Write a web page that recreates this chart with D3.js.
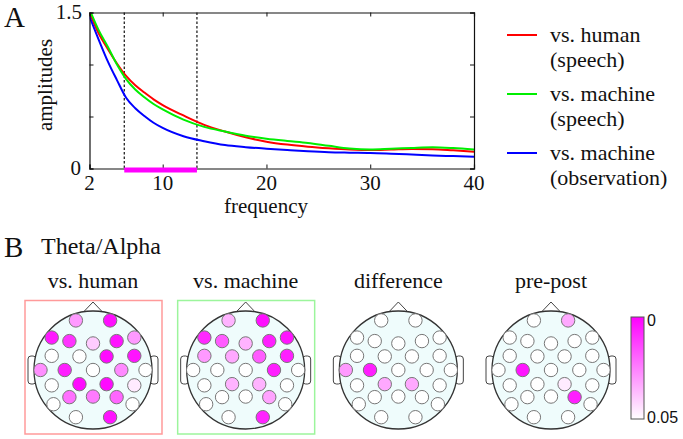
<!DOCTYPE html>
<html><head><meta charset="utf-8">
<script src="https://cdn.jsdelivr.net/npm/d3@7"></script>
<style>body{margin:0;background:#fff}svg{display:block}text{font-family:"Liberation Serif","Times New Roman",serif;fill:#111}</style>
</head><body><svg id="c" width="683" height="439"></svg>
<script>
// ---- Panel A data ----
const freqs = [2,3,4,5,6,7,8,9,10,12,14,16,18,20,22,24,26,28,30,32,34,36,38,40];
const humanSpeech   = [1.50,1.30,1.15,1.01,0.89,0.80,0.73,0.665,0.61,0.51,0.42,0.355,0.30,0.258,0.23,0.21,0.195,0.183,0.177,0.182,0.188,0.186,0.175,0.162];
const machineSpeech = [1.53,1.33,1.17,1.00,0.86,0.76,0.685,0.62,0.568,0.47,0.40,0.355,0.315,0.287,0.265,0.245,0.218,0.192,0.183,0.19,0.198,0.204,0.196,0.182];
const machineObs    = [1.46,1.24,1.03,0.85,0.68,0.58,0.505,0.44,0.39,0.31,0.262,0.225,0.205,0.19,0.177,0.165,0.156,0.152,0.149,0.142,0.134,0.126,0.119,0.112];
const seriesNames = ["vs. human|(speech)","vs. machine|(speech)","vs. machine|(observation)"];
const seriesColors = ["#ff0000","#00ee00","#0000ff"];
const band = [5.8, 13.3];
const xTickLabels = [2,10,20,30,40];
const yTickValues = [0,0.5,1,1.5];
const yTickLabels = ["0","","","1.5"];

// ---- Panel B data ----
const electrodes = ["Fp1","Fp2","F7","F3","Fz","F4","F8","FC5","FC1","FC2","FC6","T7","C3","Cz","C4","T8","CP5","CP1","CP2","CP6","P7","P3","Pz","P4","P8","O1","O2"];
// montage coordinates (unit head radius)
const montX = [-0.29,0.29,-0.70,-0.40,0,0.40,0.70,-0.70,-0.23,0.23,0.70,-0.89,-0.48,0,0.48,0.89,-0.70,-0.23,0.23,0.70,-0.67,-0.40,0,0.40,0.67,-0.29,0.29];
const montY = [-0.84,-0.84,-0.55,-0.49,-0.45,-0.49,-0.55,-0.24,-0.23,-0.23,-0.24,0,0,0,0,0,0.26,0.24,0.24,0.26,0.58,0.46,0.45,0.46,0.58,0.80,0.80];
const headTitles = ["vs. human","vs. machine","difference","pre-post"];
const pHuman   = [0.03,0.003,0.005,0.01,0.04,0.004,0.03,1,1,0.002,0.004,0.028,0.006,1,0.027,1,1,0.002,0.002,0.046,1,0.022,0.024,0.02,1,1,0.004];
const pMachine = [0.035,0.003,0.008,0.018,0.035,0.006,0.004,0.03,0.033,0.018,0.006,1,1,1,0.006,1,1,0.035,0.035,1,1,1,1,0.032,1,1,0.007];
const pDiff    = [1,1,1,1,1,1,1,1,1,1,1,0.03,0.006,1,1,1,1,0.033,0.033,1,1,1,1,1,1,1,1];
const pPrePost = [1,0.033,1,1,1,1,1,1,1,1,1,1,0.004,1,1,1,1,1,0.046,1,1,1,1,0.006,1,1,1];
const pMaps = [pHuman,pMachine,pDiff,pPrePost];
const boxColors = ["#ff9a9a","#9cf59c",null,null];
const cbarLabels = ["0","0.05"];

const svg = d3.select("#c");

// ===== Panel A =====
const x = d3.scaleLinear().domain([2,10,40]).range([89.5,162.7,474]);
const y = d3.scaleLinear().domain([0,1.5]).range([168.5,12.5]);
const gA = svg.append("g");
gA.append("defs").append("clipPath").attr("id","clipA").append("rect")
  .attr("x",x(2)).attr("y",y(1.5)).attr("width",x(40)-x(2)).attr("height",y(0)-y(1.5));

gA.selectAll("line.band").data(band).join("line")
  .attr("x1",d=>x(d)).attr("x2",d=>x(d)).attr("y1",y(1.5)).attr("y2",y(0))
  .attr("stroke","#111").attr("stroke-width",1.2).attr("stroke-dasharray","2.5,2");

const line = d3.line().x((d,i)=>x(freqs[i])).y(d=>y(d)).curve(d3.curveMonotoneX);
const allSeries = [humanSpeech, machineSpeech, machineObs];
gA.append("g").attr("clip-path","url(#clipA)").selectAll("path").data(allSeries).join("path")
  .attr("d",line).attr("fill","none").attr("stroke",(d,i)=>seriesColors[i]).attr("stroke-width",2);

const axB = d3.axisBottom(x).tickValues(xTickLabels).tickSize(-4).tickFormat("");
const axT = d3.axisTop(x).tickValues(xTickLabels).tickSize(-4).tickFormat("");
const axL = d3.axisLeft(y).tickValues(yTickValues).tickSize(-4).tickFormat("");
const axR = d3.axisRight(y).tickValues(yTickValues).tickSize(-4).tickFormat("");
[[axB,`translate(0,${y(0)})`],[axT,`translate(0,${y(1.5)})`],[axL,`translate(${x(2)},0)`],[axR,`translate(${x(40)},0)`]].forEach(([a,t])=>{
  const g = gA.append("g").attr("transform",t).call(a);
  g.select(".domain").attr("stroke","#111").attr("stroke-width",1.2);
  g.selectAll(".tick line").attr("stroke","#111");
});
gA.append("rect").attr("x",x(band[0])).attr("y",y(0)-1).attr("width",x(band[1])-x(band[0])).attr("height",5).attr("fill","#ff00ff");

gA.selectAll("text.xt").data(xTickLabels).join("text")
  .attr("x",d=>x(d)).attr("y",190).attr("text-anchor","middle").attr("font-size",21).text(d=>d);
gA.selectAll("text.yt").data(yTickValues.filter((d,i)=>yTickLabels[i])).join("text")
  .attr("x",d=>d===0?81:82).attr("y",d=>d===0?175:18.5).attr("text-anchor","end").attr("font-size",21)
  .text(d=>yTickLabels[yTickValues.indexOf(d)]);
gA.append("text").attr("x",266).attr("y",213).attr("text-anchor","middle").attr("font-size",21).text("frequency");
gA.append("text").attr("transform","translate(52,85) rotate(-90)").attr("text-anchor","middle").attr("font-size",21).text("amplitudes");
svg.append("text").attr("x",4).attr("y",27).attr("font-size",29).text("A");

const legY = [35,94,153];
seriesNames.forEach((n,i)=>{
  const parts = n.split("|");
  svg.append("line").attr("x1",507).attr("x2",537).attr("y1",legY[i]).attr("y2",legY[i])
    .attr("stroke",seriesColors[i]).attr("stroke-width",2);
  svg.append("text").attr("x",550).attr("y",legY[i]+7).attr("font-size",22).text(parts[0]);
  svg.append("text").attr("x",550).attr("y",legY[i]+32).attr("font-size",22).text(parts[1]);
});

// ===== Panel B =====
svg.append("text").attr("x",4).attr("y",257).attr("font-size",29).text("B");
svg.append("text").attr("x",41).attr("y",254).attr("font-size",24).text("Theta/Alpha");

const headCX = d3.scalePoint().domain(d3.range(4)).range([93,551]);
const headCY = 370, R = 59;
const color = d3.scaleLinear().domain([0,0.05]).range(["#ff00ff","#ffffff"]).clamp(true);

pMaps.forEach((pv,h)=>{
  const cx = headCX(h);
  const g = svg.append("g").attr("transform",`translate(${cx},${headCY})`);
  const ex = d3.scaleLinear().domain([-1,1]).range([-R,R]);
  const ey = d3.scaleLinear().domain([-1,1]).range([-R,R]);
  if (boxColors[h]) {
    g.append("rect").attr("x",-68).attr("y",-69.5).attr("width",137).attr("height",133.5)
      .attr("fill","none").attr("stroke",boxColors[h]).attr("stroke-width",1.5);
  }
  svg.append("text").attr("x",cx).attr("y",288).attr("text-anchor","middle").attr("font-size",22).text(headTitles[h]);
  [-1,1].forEach(s=>{
    g.append("rect").attr("x",s<0?-R-6:R-2).attr("y",-14).attr("width",8).attr("height",28).attr("rx",3)
      .attr("fill","#fff").attr("stroke","#444").attr("stroke-width",1);
  });
  g.append("path").attr("d",`M${-10},${-R+1.5} L0,${-R-9} L10,${-R+1.5}`).attr("fill","#fff").attr("stroke","#444").attr("stroke-width",1);
  g.append("circle").attr("r",R).attr("fill","#effcfc").attr("stroke","#333").attr("stroke-width",1.3);
  g.selectAll("circle.el").data(electrodes).join("circle")
    .attr("cx",(d,i)=>ex(montX[i])).attr("cy",(d,i)=>ey(montY[i])).attr("r",6.7)
    .attr("fill",(d,i)=>pv[i]>0.05?"#ffffff":color(pv[i])).attr("stroke","#777").attr("stroke-width",1);
});

const cb = d3.scaleLinear().domain([0,0.05]).range([317,419]);
const defs = svg.append("defs");
const grad = defs.append("linearGradient").attr("id","cbg").attr("x1",0).attr("x2",0).attr("y1",0).attr("y2",1);
grad.append("stop").attr("offset","0%").attr("stop-color",color(0));
grad.append("stop").attr("offset","100%").attr("stop-color",color(0.05));
svg.append("rect").attr("x",631).attr("y",cb(0)).attr("width",13).attr("height",cb(0.05)-cb(0))
  .attr("fill","url(#cbg)").attr("stroke","#555").attr("stroke-width",1);
svg.selectAll("text.cb").data([0,0.05]).join("text")
  .attr("x",647).attr("y",d=>cb(d)+(d===0?9:4)).attr("font-size",16)
  .style("font-family","'Liberation Sans',Arial,sans-serif").text((d,i)=>cbarLabels[i]);
</script></body></html>
